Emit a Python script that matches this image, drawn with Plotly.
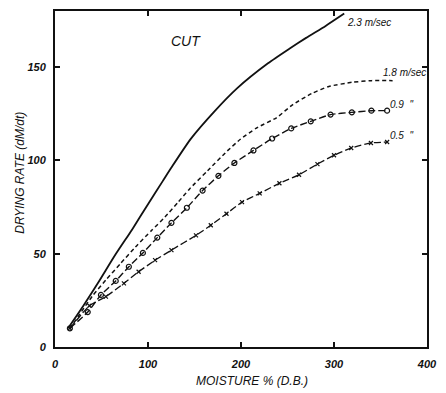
import plotly.graph_objects as go

# Drying rate vs. moisture content (dry basis) for cut material at four air velocities
moist_23 = [14, 30, 46, 65, 83, 100, 116, 125, 146, 171, 196, 229, 252, 270, 291, 311]
rate_23 = [10, 21.7, 34.1, 49.5, 63, 76.5, 89, 96, 111.5, 126, 138.7, 152, 159.8, 165.6, 172, 178.6]

moist_18 = [16, 26.5, 40.5, 54.7, 70.6, 86.5, 104, 118.2, 132.3, 144.7, 164, 185.2, 199.3,
            216.9, 238.1, 255.8, 276.9, 294.5, 319.3, 340.4, 363]
rate_18 = [9.8, 17.5, 27.5, 35.9, 44.8, 53.6, 62.5, 69.6, 77.5, 84.7, 94.4, 105, 111.3,
           117.4, 122.8, 129.9, 136, 139.6, 141.8, 142.7, 142.7]

moist_09 = [16, 35.2, 49.4, 65.3, 79.4, 94.5, 110, 125.2, 141.8, 158.7, 175.7, 192.9, 213.4,
            233.5, 254, 275, 296.3, 319.2, 340.2, 357.1]
rate_09 = [10, 18.7, 27.9, 35.4, 43.0, 50.4, 58.6, 66.5, 74.6, 83.8, 91.7, 98.6, 105.3,
           111.7, 117.1, 120.9, 124.5, 125.7, 126.6, 126.6]

moist_05 = [16, 37, 54.7, 74.1, 89.9, 107.6, 125.2, 151.6, 167.5, 184.4, 201.1, 220.1, 241.3,
            262.4, 282.2, 300, 318.5, 339.7, 357.1]
rate_05 = [10, 22.1, 27.0, 34.1, 40.3, 46.5, 51.9, 59.8, 65.2, 71.4, 77.6, 82.3, 87.7,
           92.3, 98.0, 102.7, 106.6, 109.3, 109.8]

x_ticks = [0, 100, 200, 300, 400]
y_ticks = [0, 50, 100, 150]

curve_labels = ["2.3 m/sec", "1.8 m/sec", '0.9  "', '0.5  "']
label_x = [312, 351, 358, 358]
label_y = [174, 147, 130, 113.5]

FONT = "Liberation Sans"
INK = "#111111"

fig = go.Figure()

fig.add_trace(go.Scatter(x=moist_23, y=rate_23, mode="lines",
                         line=dict(color=INK, width=1.8, shape="spline", smoothing=0.6)))
fig.add_trace(go.Scatter(x=moist_18, y=rate_18, mode="lines",
                         line=dict(color=INK, width=1.5, dash="4px,3px",
                                   shape="spline", smoothing=0.5)))
fig.add_trace(go.Scatter(x=moist_09, y=rate_09, mode="lines+markers",
                         line=dict(color=INK, width=1.4, dash="7px,3px",
                                   shape="spline", smoothing=0.5),
                         marker=dict(symbol="circle-open", size=5, color=INK,
                                     line=dict(width=1.2, color=INK))))
fig.add_trace(go.Scatter(x=moist_05, y=rate_05, mode="lines+markers",
                         line=dict(color=INK, width=1.3, dash="7px,3px",
                                   shape="spline", smoothing=0.5),
                         marker=dict(symbol="x-thin", size=4, color=INK,
                                     line=dict(width=1.2, color=INK))))

for txt, lx, ly in zip(curve_labels, label_x, label_y):
    fig.add_annotation(x=lx, y=ly, text=txt, showarrow=False, xanchor="left",
                       font=dict(family=FONT, size=10, color=INK, style="italic"))

fig.add_annotation(x=141, y=164, text="CUT", showarrow=False,
                   font=dict(family=FONT, size=14, color=INK, style="italic"))

fig.add_annotation(xref="paper", yref="paper", x=0.53, y=-0.1, yanchor="middle",
                   text="MOISTURE % (D.B.)", showarrow=False,
                   font=dict(family=FONT, size=12, color=INK, style="italic"))
fig.add_annotation(xref="paper", yref="paper", x=-0.093, y=0.52, xanchor="center",
                   text="DRYING RATE (dM/dt)", showarrow=False, textangle=-90,
                   font=dict(family=FONT, size=12, color=INK, style="italic"))

axis_common = dict(showline=True, linecolor=INK, linewidth=2, mirror="ticks",
                   ticks="inside", ticklen=5, tickwidth=1.5, tickcolor=INK,
                   showgrid=False, zeroline=False,
                   tickfont=dict(family=FONT, size=11, color=INK, style="italic",
                                 weight="bold"))

fig.update_xaxes(range=[0, 400], tickvals=x_ticks, ticktext=[str(v) for v in x_ticks],
                 ticklabelstandoff=6, **axis_common)
fig.update_yaxes(range=[0, 180], tickvals=y_ticks, ticktext=[str(v) for v in y_ticks],
                 ticklabelstandoff=5, **axis_common)

fig.update_layout(width=446, height=393, showlegend=False,
                  margin=dict(l=55, r=13, t=9, b=46),
                  paper_bgcolor="white", plot_bgcolor="white")

fig.write_html("out.html")
